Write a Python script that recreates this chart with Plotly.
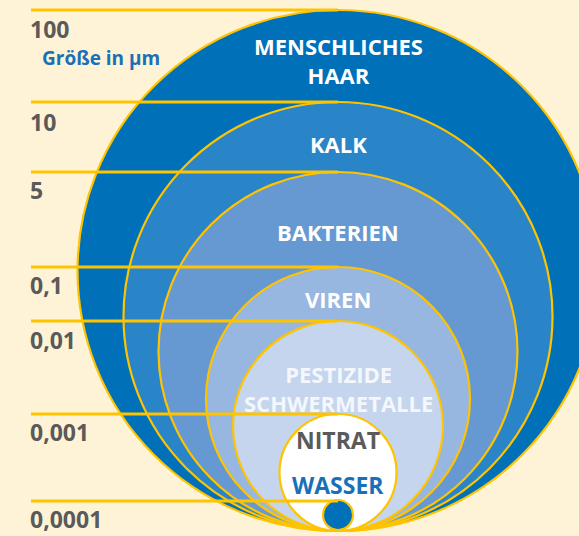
import plotly.graph_objects as go

# ---- data ----
categories = ["MENSCHLICHES<br>HAAR", "KALK", "BAKTERIEN", "VIREN",
              "PESTIZIDE<br>SCHWERMETALLE", "NITRAT", "WASSER"]
size_labels = ["100", "10", "5", "0,1", "0,01", "0,001", "0,0001"]
size_um = [100, 10, 5, 0.1, 0.01, 0.001, 0.0001]
# depicted (not-to-scale) diameter of each particle on the diagram scale
depicted_diameter = [521, 429, 359, 264, 210, 117, 30]
unit_title = "Größe in µm"

# ---- styles ----
BG = "#FEF3D6"
GOLD = "#FFC400"
fills = ["#0070B8", "#2A84C8", "#6699D1", "#97B6E0", "#C6D5EE", "#FFFFFF", "#0070B8"]
label_colors = ["#FFFFFF", "#FFFFFF", "#FFFFFF", "#FFFFFF", "#F4F7FC", "#5A5A5A", "#1A70B8"]
FONT = "Open Sans"

base_y = 531      # common touching point at bottom
cx = 338          # common center x
left_x = 31

fig = go.Figure()
shapes = []
annotations = []

n = len(categories)
for i in range(n):
    d = depicted_diameter[i]
    top = base_y - d
    off = 1 if i == n - 1 else 0
    shapes.append(dict(type="circle", xref="x", yref="y",
                       x0=cx - d / 2, x1=cx + d / 2, y0=top - off, y1=base_y - off,
                       fillcolor=fills[i], line=dict(color=GOLD, width=2.2),
                       layer="above"))

# guide lines on top
for i in range(n):
    top = base_y - depicted_diameter[i]
    shapes.append(dict(type="line", xref="x", yref="y",
                       x0=left_x, x1=cx, y0=top, y1=top,
                       line=dict(color=GOLD, width=3), layer="above"))

# size labels
label_offsets = [19, 20, 18, 18, 19, 18, 18]
for i in range(n):
    top = base_y - depicted_diameter[i]
    annotations.append(dict(x=left_x - 3, y=top + label_offsets[i], xref="x", yref="y",
                            text="<b>" + size_labels[i] + "</b>", showarrow=False,
                            xanchor="left", yanchor="middle",
                            font=dict(family=FONT, size=23, color="#5A5A5A")))

annotations.append(dict(x=40, y=58, xref="x", yref="y", text="<b>" + unit_title + "</b>",
                        showarrow=False, xanchor="left", yanchor="middle",
                        font=dict(family=FONT, size=19, color="#1A70B8")))

# category labels (center of each label block within its ring)
cat_y = [60, 144, 232, 299, 388, 440, 485]
cat_size = [22, 22, 22, 22, 22, 23, 23]
for i in range(n):
    annotations.append(dict(x=cx, y=cat_y[i], xref="x", yref="y",
                            text="<b>" + categories[i].replace("<br>", "</b><br><b>") + "</b>",
                            showarrow=False, xanchor="center", yanchor="middle",
                            font=dict(family=FONT, size=cat_size[i], color=label_colors[i])))

fig.update_layout(
    width=579, height=536,
    margin=dict(l=0, r=0, t=0, b=0),
    paper_bgcolor=BG, plot_bgcolor=BG,
    xaxis=dict(range=[0, 579], visible=False, fixedrange=True),
    yaxis=dict(range=[536, 0], visible=False, fixedrange=True),
    shapes=shapes, annotations=annotations,
    showlegend=False,
)
fig.write_html("out.html", config={"displayModeBar": False},
               post_script="document.body.style.margin='0';document.body.style.overflow='hidden';")
